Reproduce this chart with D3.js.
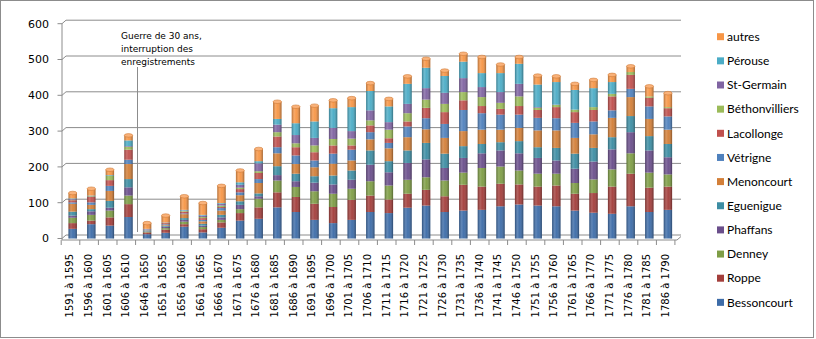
<!DOCTYPE html>
<html><head><meta charset="utf-8">
<script src="https://cdn.jsdelivr.net/npm/d3@7"></script>
<style>body{margin:0;background:#fff} svg{display:block}</style>
</head><body><svg id="c" width="816" height="339"></svg>
<script>
const categories = ["1591 à 1595","1596 à 1600","1601 à 1605","1606 à 1610","1646 à 1650","1651 à 1655","1656 à 1660","1661 à 1665","1666 à 1670","1671 à 1675","1676 à 1680","1681 à 1685","1686 à 1690","1691 à 1695","1696 à 1700","1701 à 1705","1706 à 1710","1711 à 1715","1716 à 1720","1721 à 1725","1726 à 1730","1731 à 1735","1736 à 1740","1741 à 1745","1746 à 1750","1751 à 1755","1756 à 1760","1761 à 1765","1766 à 1770","1771 à 1775","1776 à 1780","1781 à 1785","1786 à 1790"];
const bessoncourt = [27,40,36,60,12,16,33,17,30,50,55,87,74,52,43,52,74,71,86,92,74,78,80,90,95,92,90,78,72,69,90,74,80];
const roppe = [16,10,23,36,5,9,7,9,15,21,32,42,42,45,45,56,46,38,39,44,44,72,65,63,56,53,58,47,55,76,91,68,65];
const denney = [15,16,19,24,2,4,7,6,7,11,24,33,28,35,37,31,40,39,39,35,44,34,52,48,39,36,33,30,38,48,57,42,34];
const phaffans = [6,10,8,23,1,4,5,4,7,12,7,15,16,24,26,25,46,37,47,50,35,41,41,45,48,44,37,40,50,56,59,62,48];
const eguenigue = [11,6,19,23,2,3,5,5,7,10,8,25,21,18,25,26,40,31,35,46,40,33,26,23,34,30,35,42,38,34,45,40,37];
const menoncourt = [22,12,28,42,1,2,11,7,12,17,29,36,27,25,33,28,31,36,37,38,44,42,40,35,37,47,49,44,38,54,53,48,40];
const vetrigne = [4,7,14,12,1,2,2,4,7,8,11,17,24,19,28,30,20,15,30,31,39,59,46,42,37,35,34,42,36,21,23,35,37];
const lacollonge = [6,15,16,28,1,3,5,5,3,9,17,30,23,23,23,12,19,13,14,29,33,27,20,16,24,22,31,30,32,39,39,24,23];
const bethonvilliers = [1,2,12,8,0,1,2,3,4,4,5,12,11,19,18,19,14,24,23,23,23,23,25,17,27,6,6,7,8,7,8,4,3];
const stgermain = [2,1,0,2,1,1,1,4,5,8,22,21,23,21,31,21,28,21,26,32,31,39,28,30,35,2,1,0,0,0,0,0,0];
const perouse = [2,1,2,16,1,0,2,2,2,7,6,16,33,46,55,67,54,44,56,57,47,46,39,53,56,63,63,55,53,33,0,0,0];
const autres = [15,19,15,14,16,19,38,33,48,33,34,48,46,44,22,25,22,21,21,25,15,22,45,24,19,25,16,17,23,20,16,28,39];
const seriesNames = ["Bessoncourt","Roppe","Denney","Phaffans","Eguenigue","Menoncourt","Vétrigne","Lacollonge","Béthonvilliers","St-Germain","Pérouse","autres"];
const seriesValues = [bessoncourt,roppe,denney,phaffans,eguenigue,menoncourt,vetrigne,lacollonge,bethonvilliers,stgermain,perouse,autres];
const seriesColors = ["#3D6CA8","#A33E3B","#7E9D45","#6A4E8B","#3C8DA3","#D37F38","#4F81BD","#C0504D","#9BBB59","#8064A2","#4BACC6","#F79646"];
const yTicks = [0,100,200,300,400,500,600];
const noteLines = ["Guerre de 30 ans,","interruption des","enregistrements"];

const svg = d3.select("#c");
svg.append("rect").attr("x",0.5).attr("y",0.5).attr("width",813).attr("height",337)
  .attr("fill","#fff").attr("stroke","#8c8c8c");

const defs = svg.append("defs");
const g = defs.append("linearGradient").attr("id","cyl").attr("x1",0).attr("x2",1).attr("y1",0).attr("y2",0);
[[0,"#000",0.28],[0.3,"#fff",0.18],[0.55,"#fff",0.04],[1,"#000",0.35]].forEach(s=>
  g.append("stop").attr("offset",s[0]).attr("stop-color",s[1]).attr("stop-opacity",s[2]));

const x = d3.scaleBand().domain(categories).range([63,677.6]).paddingInner(0.55).paddingOuter(0.296);
const y = d3.scaleLinear().domain([0,600]).range([238.5,23.7]);
const color = d3.scaleOrdinal().domain(seriesNames).range(seriesColors);

// gridlines (back wall)
yTicks.forEach(t=>{
  const yy = y(t);
  svg.append("path").attr("d",`M62,${yy}L66,${yy-3.5}L681,${yy-3.5}`)
    .attr("fill","none").attr("stroke","#8c8c8c").attr("stroke-width",1);
});
// y axis
svg.append("line").attr("x1",62).attr("x2",62).attr("y1",y(600)).attr("y2",y(0)+1.5).attr("stroke","#8c8c8c");
svg.append("g").selectAll("line").data(yTicks).join("line")
  .attr("x1",57.5).attr("x2",62).attr("y1",d=>y(d)).attr("y2",d=>y(d)).attr("stroke","#8c8c8c");
svg.append("g").selectAll("text").data(yTicks).join("text")
  .attr("x",49).attr("y",d=>y(d)).attr("dy","0.35em").attr("text-anchor","end")
  .attr("font-family","DejaVu Sans").attr("font-size",11).attr("fill","#000").text(d=>d);
// floor
const fy = y(0)+1.5;
svg.append("path").attr("d",`M62,${fy}L677,${fy}L681,${fy-3.5}`).attr("fill","none").attr("stroke","#8c8c8c");

// stacked data
const table = categories.map((c,i)=>{const r={cat:c}; seriesNames.forEach((s,j)=>r[s]=seriesValues[j][i]); return r;});
const stacked = d3.stack().keys(seriesNames)(table);
const bw = x.bandwidth();
svg.append("g").selectAll("g").data(stacked).join("g").attr("fill",d=>color(d.key))
  .selectAll("rect").data(d=>d).join("rect")
  .attr("x",d=>x(d.data.cat)).attr("width",bw)
  .attr("y",d=>y(d[1])).attr("height",d=>Math.max(0,y(d[0])-y(d[1])));
const totals = table.map(r=>({cat:r.cat,total:d3.sum(seriesNames,s=>r[s])}));
svg.append("g").selectAll("rect").data(totals).join("rect")
  .attr("x",d=>x(d.cat)).attr("width",bw).attr("y",d=>y(d.total)).attr("height",d=>y(0)-y(d.total))
  .attr("fill","url(#cyl)");
svg.append("g").selectAll("ellipse").data(totals).join("ellipse")
  .attr("cx",d=>x(d.cat)+bw/2).attr("cy",d=>y(d.total)).attr("rx",bw/2).attr("ry",1.8)
  .attr("fill","#F9B27A").attr("stroke","#D07A36").attr("stroke-width",0.6);

// x ticks and labels
const ticksX = categories.map(c=>x(c)+bw/2-11.5).concat([x(categories[categories.length-1])+bw/2+7]);
svg.append("g").selectAll("line").data(ticksX).join("line")
  .attr("x1",d=>d).attr("x2",d=>d).attr("y1",fy).attr("y2",fy+5).attr("stroke","#8c8c8c");
svg.append("g").selectAll("text").data(categories).join("text")
  .attr("transform",c=>`translate(${x(c)+bw/2-2.7},254) rotate(-90)`)
  .attr("dy","0.35em").attr("text-anchor","end")
  .attr("font-family","DejaVu Sans").attr("font-size",10).attr("fill","#000").text(c=>c);

// annotation
svg.append("g").selectAll("text").data(noteLines).join("text")
  .attr("x",121).attr("y",(d,i)=>38.5+i*13).attr("font-family","DejaVu Sans").attr("font-size",9)
  .attr("fill","#000").text(d=>d);
svg.append("line").attr("x1",137.5).attr("x2",137.5).attr("y1",67).attr("y2",232).attr("stroke","#8c8c8c");

// legend
const legendOrder = seriesNames.slice().reverse();
const lg = svg.append("g").selectAll("g").data(legendOrder).join("g")
  .attr("transform",(d,i)=>`translate(717,${36.7+i*24.15})`);
lg.append("rect").attr("x",0).attr("y",-3.5).attr("width",7).attr("height",7).attr("fill",d=>color(d));
lg.append("text").attr("x",10).attr("dy","0.35em").attr("font-family","Lato").attr("font-size",12)
  .attr("fill","#000").text(d=>d);
</script></body></html>
